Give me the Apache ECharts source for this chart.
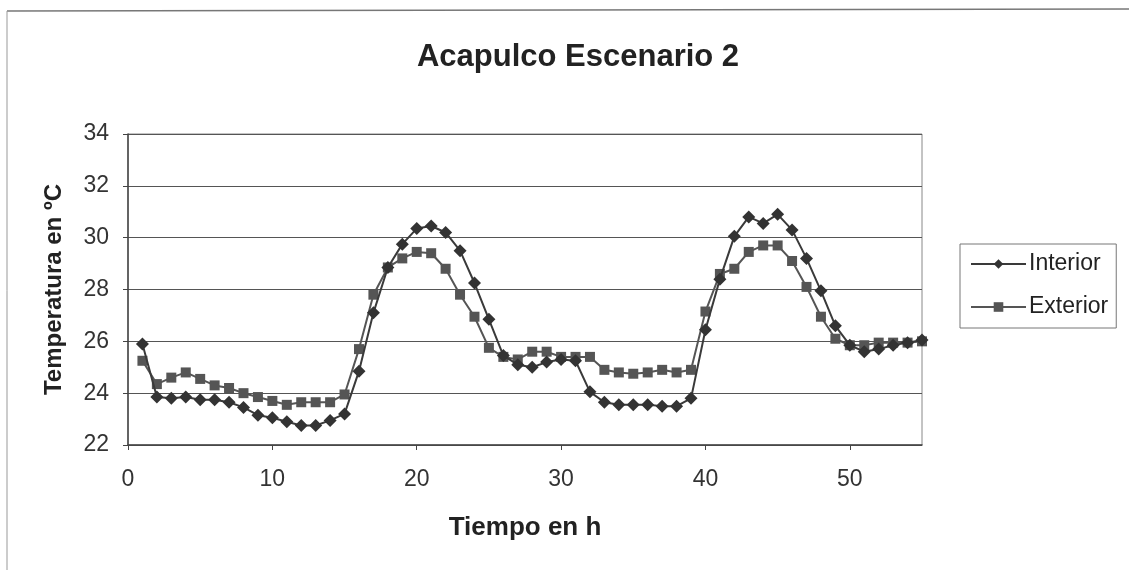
<!DOCTYPE html>
<html><head><meta charset="utf-8">
<script src="https://cdn.jsdelivr.net/npm/echarts@6/dist/echarts.min.js"></script>
<style>html,body{margin:0;padding:0;background:#fff}#c{width:1129px;height:570px}</style>
</head><body><div id="c"></div>
<script>
const hours = [1,2,3,4,5,6,7,8,9,10,11,12,13,14,15,16,17,18,19,20,21,22,23,24,25,26,27,28,29,30,31,32,33,34,35,36,37,38,39,40,41,42,43,44,45,46,47,48,49,50,51,52,53,54,55];
const interior = [25.9,23.85,23.8,23.85,23.75,23.75,23.65,23.45,23.15,23.05,22.9,22.75,22.75,22.95,23.2,24.85,27.1,28.85,29.75,30.35,30.45,30.2,29.5,28.25,26.85,25.45,25.1,25.0,25.2,25.3,25.25,24.05,23.65,23.55,23.55,23.55,23.5,23.5,23.8,26.45,28.4,30.05,30.8,30.55,30.9,30.3,29.2,27.95,26.6,25.85,25.6,25.7,25.85,25.95,26.05];
const exterior = [25.25,24.35,24.6,24.8,24.55,24.3,24.2,24.0,23.85,23.7,23.55,23.65,23.65,23.65,23.95,25.7,27.8,28.85,29.2,29.45,29.4,28.8,27.8,26.95,25.75,25.4,25.3,25.6,25.6,25.4,25.4,25.4,24.9,24.8,24.75,24.8,24.9,24.8,24.9,27.15,28.6,28.8,29.45,29.7,29.7,29.1,28.1,26.95,26.1,25.85,25.85,25.95,25.95,25.95,26.0];
const yTicks = [22,24,26,28,30,32,34];

const chart = echarts.init(document.getElementById('c'));
const font = 'Liberation Sans, Arial, sans-serif';
chart.setOption({
  animation: false,
  backgroundColor: '#fff',
  title: {
    text: 'Acapulco Escenario 2', left: 573, top: 37, textAlign: 'center',
    textStyle: {fontFamily: font, fontSize: 31, fontWeight: 'bold', color: '#222'}
  },
  legend: {
    orient: 'vertical', left: 960, top: 244,
    itemWidth: 55, itemHeight: 12, itemGap: 17,
    padding: [7, 8, 8, 10],
    borderColor: '#777', borderWidth: 1,
    textStyle: {fontFamily: font, fontSize: 23, lineHeight: 26, color: '#222', padding:[0,0,0,-2]},
    data: ['Interior', 'Exterior']
  },
  grid: {left: 128, right: 207, top: 134, bottom: 125, show: true, borderColor: '#888', borderWidth: 1},
  xAxis: {
    type: 'value', min: 0, max: 55, interval: 10,
    name: 'Tiempo en h', nameLocation: 'middle', nameGap: 70,
    nameTextStyle: {fontFamily: font, fontSize: 26, fontWeight: 'bold', color: '#222'},
    axisLine: {show: true, onZero: false, lineStyle: {color: '#444', width: 1.5}},
    axisTick: {show: true, length: 5, lineStyle: {color: '#444'}},
    axisLabel: {fontFamily: font, fontSize: 23, color: '#333', margin: 23, showMaxLabel: false},
    splitLine: {show: false}
  },
  yAxis: {
    type: 'value', min: 22, max: 34, interval: 2,
    name: 'Temperatura en ºC', nameLocation: 'middle', nameGap: 62, nameRotate: 90,
    nameTextStyle: {fontFamily: font, fontSize: 24, fontWeight: 'bold', color: '#222'},
    axisLine: {show: true, lineStyle: {color: '#444', width: 1.5}},
    axisTick: {show: true, length: 5, lineStyle: {color: '#444'}},
    axisLabel: {fontFamily: font, fontSize: 23, color: '#333', margin: 19,
      formatter: v => yTicks.includes(v) ? String(v) : ''},
    splitLine: {show: true, lineStyle: {color: '#555', width: 1.2}}
  },
  series: [
    {
      name: 'Interior', type: 'line', data: hours.map((h,i)=>[h, interior[i]]),
      symbol: 'diamond', symbolSize: 13,
      lineStyle: {color: '#3a3a3a', width: 2}, itemStyle: {color: '#333'}, z: 3
    },
    {
      name: 'Exterior', type: 'line', data: hours.map((h,i)=>[h, exterior[i]]),
      symbol: 'rect', symbolSize: 10,
      lineStyle: {color: '#555', width: 2}, itemStyle: {color: '#555'}, z: 2
    }
  ],
  graphic: [
    {type: 'line', shape: {x1: 7, y1: 11, x2: 1129, y2: 9}, style: {stroke: '#777', lineWidth: 1.5}, silent: true},
    {type: 'line', shape: {x1: 7, y1: 11, x2: 7, y2: 570}, style: {stroke: '#999', lineWidth: 1}, silent: true}
  ]
});
</script></body></html>
